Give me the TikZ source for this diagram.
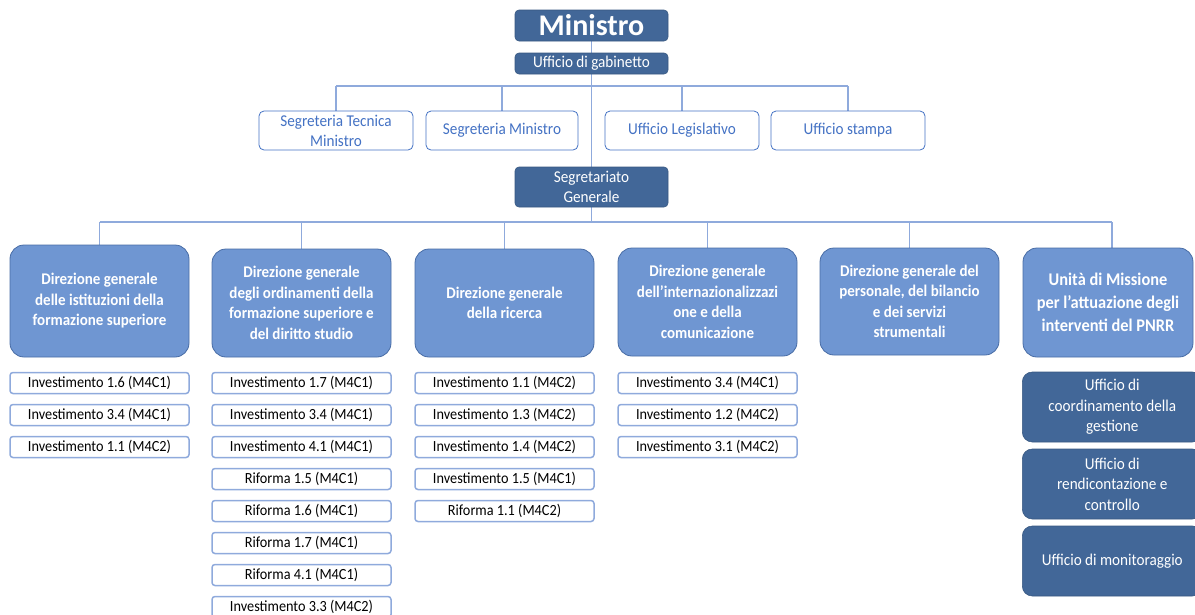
\documentclass[tikz,border=0pt]{standalone}
\usepackage{fontspec}
\setmainfont{Carlito}[FakeStretch=0.92]
\newfontfamily\minfont{Carlito}
\usetikzlibrary{backgrounds}
\definecolor{dkblue}{RGB}{66,103,152}
\definecolor{dirfill}{RGB}{111,150,210}
\definecolor{dirborder}{RGB}{72,108,165}
\definecolor{itemborder}{RGB}{143,170,220}
\definecolor{linecol}{RGB}{143,170,220}
\definecolor{topblue}{RGB}{68,114,196}
\begin{document}
\begin{tikzpicture}[x=1pt,y=-1pt,
  darkbox/.style={fill=dkblue,draw=dkblue!85!black,line width=0.6pt,rounded corners=4pt,text=white,align=center,inner sep=0pt,font=\fontsize{16.5}{20.5}\selectfont},
  topbox/.style={fill=white,draw=topblue,line width=0.8pt,rounded corners=5pt,text=topblue,align=center,inner sep=0pt,minimum height=39pt,font=\fontsize{16.5}{20}\selectfont},
  dirbox/.style={fill=dirfill,draw=dirborder,line width=0.8pt,rounded corners=14pt,text=white,align=center,inner sep=0pt,minimum width=179pt,font=\bfseries\fontsize{16.3}{20.5}\selectfont},
  itembox/.style={fill=white,draw=itemborder,line width=1.5pt,rounded corners=3pt,align=center,inner sep=0pt,minimum width=179pt,minimum height=21pt,font=\fontsize{15.5}{16}\selectfont},
  conn/.style={draw=linecol,line width=1.1pt}]
\clip (0,0) rectangle (1195,614);
\useasboundingbox (0,0) rectangle (1195,614);
% top
\node[darkbox,minimum width=153pt,minimum height=31pt,font=\minfont\bfseries\fontsize{30}{31}\selectfont] (min) at (591.5,25.5) {Ministro};
\node[darkbox,minimum width=153pt,minimum height=21pt] (gab) at (591.5,63.5) {Ufficio di gabinetto};
\node[topbox,minimum width=154pt] (st) at (336,130.5) {Segreteria Tecnica\\Ministro};
\node[topbox,minimum width=152pt] (sm) at (502,130.5) {Segreteria Ministro};
\node[topbox,minimum width=154pt] (ul) at (682,130.5) {Ufficio Legislativo};
\node[topbox,minimum width=154pt] (us) at (848,130.5) {Ufficio stampa};
\node[darkbox,minimum width=153pt,minimum height=40pt] (sg) at (591.5,187) {Segretariato\\Generale};
\coordinate (h1) at (591.5,86);
\coordinate (h2) at (591.5,222);
% direzioni
\node[dirbox,minimum height=112pt] (d1) at (99.5,301) {Direzione generale\\delle istituzioni della\\formazione superiore};
\node[dirbox,minimum height=108pt] (d2) at (301.5,303) {Direzione generale\\degli ordinamenti della\\formazione superiore e\\del diritto studio};
\node[dirbox,minimum height=108pt] (d3) at (504.5,303) {Direzione generale\\della ricerca};
\node[dirbox,minimum height=108pt] (d4) at (707.5,302) {Direzione generale\\dell’internazionalizzazi\\one e della\\comunicazione};
\node[dirbox,minimum height=107pt] (d5) at (909.5,301.5) {Direzione generale del\\personale, del bilancio\\e dei servizi\\strumentali};
\node[dirbox,minimum width=170pt,minimum height=109pt,font=\bfseries\fontsize{17.8}{23}\selectfont] (d6) at (1108,302.5) {Unità di Missione\\per l’attuazione degli\\interventi del PNRR};
% items col 1
\node[itembox] (a1) at (99.5,383) {Investimento 1.6 (M4C1)};
\node[itembox] (a2) at (99.5,415) {Investimento 3.4 (M4C1)};
\node[itembox] (a3) at (99.5,447) {Investimento 1.1 (M4C2)};
% col 2
\node[itembox] (b1) at (301.5,383) {Investimento 1.7 (M4C1)};
\node[itembox] (b2) at (301.5,415) {Investimento 3.4 (M4C1)};
\node[itembox] (b3) at (301.5,447) {Investimento 4.1 (M4C1)};
\node[itembox] (b4) at (301.5,479) {Riforma 1.5 (M4C1)};
\node[itembox] (b5) at (301.5,511) {Riforma 1.6 (M4C1)};
\node[itembox] (b6) at (301.5,543) {Riforma 1.7 (M4C1)};
\node[itembox] (b7) at (301.5,575) {Riforma 4.1 (M4C1)};
\node[itembox] (b8) at (301.5,607) {Investimento 3.3 (M4C2)};
% col 3
\node[itembox] (c1) at (504.5,383) {Investimento 1.1 (M4C2)};
\node[itembox] (c2) at (504.5,415) {Investimento 1.3 (M4C2)};
\node[itembox] (c3) at (504.5,447) {Investimento 1.4 (M4C2)};
\node[itembox] (c4) at (504.5,479) {Investimento 1.5 (M4C1)};
\node[itembox] (c5) at (504.5,511) {Riforma 1.1 (M4C2)};
% col 4
\node[itembox] (e1) at (707.5,383) {Investimento 3.4 (M4C1)};
\node[itembox] (e2) at (707.5,415) {Investimento 1.2 (M4C2)};
\node[itembox] (e3) at (707.5,447) {Investimento 3.1 (M4C2)};
% unita di missione offices
\node[darkbox,rounded corners=10pt,minimum width=180pt,minimum height=70pt,anchor=west] (u1) at (1022,407) {Ufficio di\\coordinamento della\\gestione};
\node[darkbox,rounded corners=10pt,minimum width=180pt,minimum height=70pt,anchor=west] (u2) at (1022,484) {Ufficio di\\rendicontazione e\\controllo};
\node[darkbox,rounded corners=10pt,minimum width=180pt,minimum height=70pt,anchor=west] (u3) at (1022,561) {Ufficio di monitoraggio};
% connectors
\begin{scope}[on background layer]
\draw[conn] (min.south) -- (gab.north);
\draw[conn] (gab.south) -- (sg.north);
\draw[conn] (st.north |- h1) -- (us.north |- h1);
\foreach \n in {st,sm,ul,us} \draw[conn] (\n.north |- h1) -- (\n.north);
\draw[conn] (sg.south) -- (h2);
\draw[conn] (d1.north |- h2) -- ([xshift=4pt]d6.north |- h2);
\foreach \n in {d1,d2,d3,d4,d5} \draw[conn] (\n.north |- h2) -- (\n.north);
\draw[conn] ([xshift=4pt]d6.north |- h2) -- ([xshift=4pt]d6.north);
\end{scope}
\end{tikzpicture}
\end{document}
